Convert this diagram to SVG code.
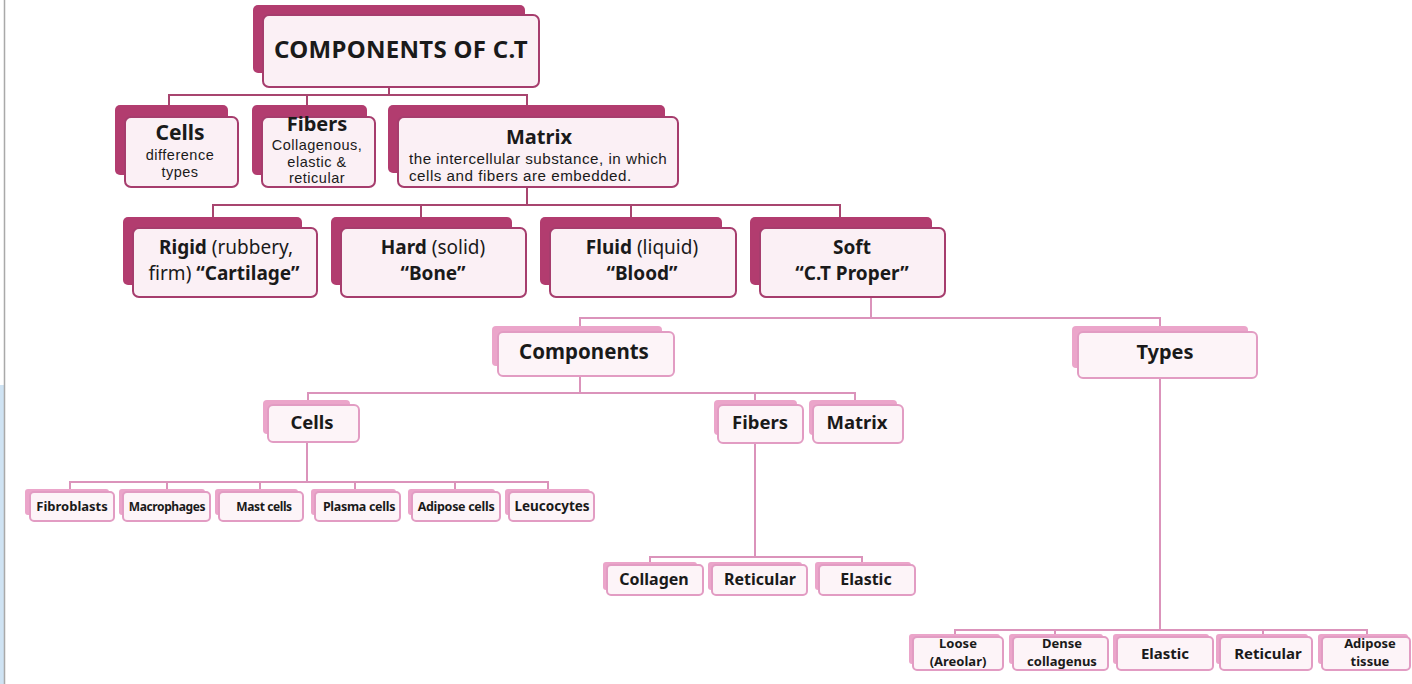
<svg xmlns="http://www.w3.org/2000/svg" width="1412" height="684" viewBox="0 0 1412 684">
<style>
.bd{fill:#b23c6f}
.fd{fill:#fbf0f5;stroke:#a63d6d;stroke-width:2}
.bp{fill:#eba5ca}
.fp{fill:#fdf4f8;stroke:#e29cc3;stroke-width:2}
.cd{stroke:#a8456f;stroke-width:2;fill:none}
.cp{stroke:#db93bb;stroke-width:2;fill:none}
text{font-family:"Noto Sans","DejaVu Sans",sans-serif;fill:#1a1a1a;text-anchor:middle}
text.s{font-family:"Liberation Sans",Arial,sans-serif;letter-spacing:0.5px}
.b{font-weight:bold}
</style>
<rect x="0" y="0" width="1412" height="684" fill="#ffffff"/>
<rect x="0" y="385" width="4" height="299" fill="#cfe3f3"/>
<line x1="4.5" y1="0" x2="4.5" y2="684" stroke="#a9a9a9" stroke-width="1.5"/>
<g id="connectors">
<path class="cd" d="M389 87V95M169 105V95H527V105M307 95V105"/>
<path class="cd" d="M527 187V205M213 217V205H840V217M421 205V217M631 205V217"/>
<path class="cp" d="M871 297V318M580 326V318H1160V326"/>
<path class="cp" d="M580 376V393M308 400V393H855V400M755 393V400"/>
<path class="cp" d="M307 442V482M70 489V482H548V489M167 482V489M260 482V489M355 482V489M455 482V489"/>
<path class="cp" d="M755 443V557M650 564V557H862V564"/>
<path class="cp" d="M1160 378V630M955 636V630H1367V636M1055 630V636M1263 630V636"/>
</g>
<g id="n-root"><rect class="bd" x="253" y="5" width="272" height="68" rx="5"/><rect class="fd" x="263" y="15" width="276" height="72" rx="6"/><text class="b" x="401" y="58" font-size="24" letter-spacing="0.3">COMPONENTS OF C.T</text></g>
<g id="n-cells"><rect class="bd" x="115" y="105" width="113" height="70" rx="5"/><rect class="fd" x="125" y="117" width="113" height="70" rx="6"/><text class="b" x="180" y="140" font-size="21">Cells</text><text class="s" x="180" y="160" font-size="14.5">difference</text><text class="s" x="180" y="176.5" font-size="14.5">types</text></g>
<g id="n-fibers"><rect class="bd" x="252" y="105" width="115" height="70" rx="5"/><rect class="fd" x="262" y="117" width="113" height="70" rx="6"/><text class="b" x="317" y="131" font-size="20">Fibers</text><text class="s" x="317" y="150" font-size="14.5">Collagenous,</text><text class="s" x="317" y="166.5" font-size="14.5">elastic &amp;</text><text class="s" x="317" y="183" font-size="14.5">reticular</text></g>
<g id="n-matrix"><rect class="bd" x="388" y="105" width="277" height="68" rx="5"/><rect class="fd" x="398" y="117" width="280" height="70" rx="6"/><text class="b" x="539" y="144" font-size="20">Matrix</text><text class="s" x="409" y="164" font-size="15.2" style="text-anchor:start">the intercellular substance, in which</text><text class="s" x="409" y="181" font-size="15.2" style="text-anchor:start">cells and fibers are embedded.</text></g>
<g id="n-rigid"><rect class="bd" x="123" y="217" width="179" height="68" rx="5"/><rect class="fd" x="133" y="228" width="184" height="69" rx="6"/><text x="226" y="254" font-size="19"><tspan class="b">Rigid</tspan> (rubbery,</text><text x="224" y="280" font-size="19">firm) <tspan class="b">“Cartilage”</tspan></text></g>
<g id="n-hard"><rect class="bd" x="331" y="217" width="181" height="68" rx="5"/><rect class="fd" x="341" y="228" width="185" height="69" rx="6"/><text x="433" y="254" font-size="19"><tspan class="b">Hard</tspan> (solid)</text><text class="b" x="433" y="280" font-size="19">“Bone”</text></g>
<g id="n-fluid"><rect class="bd" x="540" y="217" width="182" height="68" rx="5"/><rect class="fd" x="550" y="228" width="186" height="69" rx="6"/><text x="642" y="254" font-size="19"><tspan class="b">Fluid</tspan> (liquid)</text><text class="b" x="642" y="280" font-size="19">“Blood”</text></g>
<g id="n-soft"><rect class="bd" x="750" y="217" width="182" height="68" rx="5"/><rect class="fd" x="760" y="228" width="185" height="69" rx="6"/><text class="b" x="852" y="254" font-size="19">Soft</text><text class="b" x="852" y="280" font-size="19">“C.T Proper”</text></g>
<g id="n-components"><rect class="bp" x="492" y="326" width="170" height="40" rx="4"/><rect class="fp" x="498" y="332" width="176" height="44" rx="5"/><text class="b" x="584" y="359" font-size="20.5">Components</text></g>
<g id="n-types"><rect class="bp" x="1072" y="326" width="176" height="42" rx="4"/><rect class="fp" x="1078" y="332" width="179" height="46" rx="5"/><text class="b" x="1165" y="359" font-size="20">Types</text></g>
<g id="n-cells2"><rect class="bp" x="263" y="400" width="87" height="34" rx="4"/><rect class="fp" x="268" y="405" width="91" height="37" rx="5"/><text class="b" x="312" y="429" font-size="18.5">Cells</text></g>
<g id="n-fibers2"><rect class="bp" x="714" y="400" width="83" height="35" rx="4"/><rect class="fp" x="718" y="405" width="85" height="38" rx="5"/><text class="b" x="760" y="429" font-size="18.5">Fibers</text></g>
<g id="n-matrix2"><rect class="bp" x="809" y="400" width="88" height="35" rx="4"/><rect class="fp" x="813" y="405" width="90" height="38" rx="5"/><text class="b" x="857" y="429" font-size="18.5">Matrix</text></g>
<g id="n-fibroblasts"><rect class="bp" x="25" y="489" width="84" height="26" rx="3"/><rect class="fp" x="30" y="492" width="84" height="29" rx="4"/><text class="b" x="72" y="511" font-size="13">Fibroblasts</text></g>
<g id="n-macrophages"><rect class="bp" x="119" y="489" width="86" height="26" rx="3"/><rect class="fp" x="123" y="492" width="87" height="29" rx="4"/><text class="b" x="167" y="511" font-size="12" letter-spacing="-0.4">Macrophages</text></g>
<g id="n-mast"><rect class="bp" x="215" y="489" width="83" height="26" rx="3"/><rect class="fp" x="219" y="492" width="84" height="29" rx="4"/><text class="b" x="264" y="511" font-size="12" letter-spacing="-0.4">Mast cells</text></g>
<g id="n-plasma"><rect class="bp" x="311" y="489" width="85" height="26" rx="3"/><rect class="fp" x="315" y="492" width="85" height="29" rx="4"/><text class="b" x="359" y="511" font-size="12.5" letter-spacing="-0.3">Plasma cells</text></g>
<g id="n-adipose"><rect class="bp" x="408" y="489" width="87" height="26" rx="3"/><rect class="fp" x="412" y="492" width="88" height="29" rx="4"/><text class="b" x="456" y="511" font-size="12.5" letter-spacing="-0.3">Adipose cells</text></g>
<g id="n-leucocytes"><rect class="bp" x="505" y="489" width="85" height="26" rx="3"/><rect class="fp" x="509" y="492" width="85" height="29" rx="4"/><text class="b" x="552" y="511" font-size="13.5">Leucocytes</text></g>
<g id="n-collagen"><rect class="bp" x="603" y="562" width="94" height="28" rx="3"/><rect class="fp" x="607" y="565" width="96" height="30" rx="4"/><text class="b" x="654" y="585" font-size="16">Collagen</text></g>
<g id="n-reticular"><rect class="bp" x="708" y="562" width="94" height="28" rx="3"/><rect class="fp" x="712" y="565" width="95" height="30" rx="4"/><text class="b" x="760" y="585" font-size="16">Reticular</text></g>
<g id="n-elastic"><rect class="bp" x="815" y="562" width="96" height="28" rx="3"/><rect class="fp" x="819" y="565" width="96" height="30" rx="4"/><text class="b" x="866" y="585" font-size="16">Elastic</text></g>
<g id="n-loose"><rect class="bp" x="909" y="634" width="91" height="30" rx="3"/><rect class="fp" x="913" y="637" width="90" height="33" rx="4"/><text class="b" x="958" y="648" font-size="13">Loose</text><text class="b" x="958" y="666" font-size="13">(Areolar)</text></g>
<g id="n-dense"><rect class="bp" x="1009" y="634" width="94" height="30" rx="3"/><rect class="fp" x="1013" y="637" width="95" height="33" rx="4"/><text class="b" x="1062" y="648" font-size="13">Dense</text><text class="b" x="1062" y="666" font-size="13">collagenus</text></g>
<g id="n-elastic2"><rect class="bp" x="1113" y="634" width="96" height="30" rx="3"/><rect class="fp" x="1117" y="637" width="96" height="33" rx="4"/><text class="b" x="1165" y="659" font-size="15">Elastic</text></g>
<g id="n-reticular2"><rect class="bp" x="1216" y="634" width="92" height="30" rx="3"/><rect class="fp" x="1220" y="637" width="92" height="33" rx="4"/><text class="b" x="1268" y="659" font-size="15">Reticular</text></g>
<g id="n-adipose2"><rect class="bp" x="1318" y="634" width="90" height="30" rx="3"/><rect class="fp" x="1322" y="637" width="88" height="33" rx="4"/><text class="b" x="1370" y="648" font-size="13">Adipose</text><text class="b" x="1370" y="666" font-size="13">tissue</text></g>
</svg>
